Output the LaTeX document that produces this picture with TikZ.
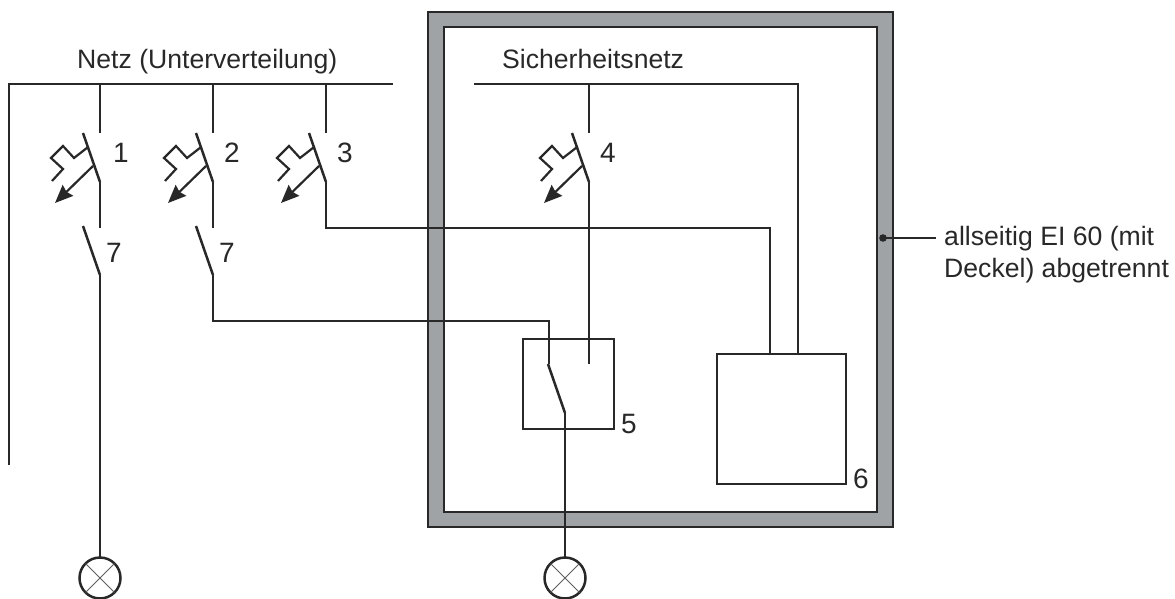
\documentclass[tikz,border=0pt]{standalone}
\usepackage{fontspec}
\setmainfont{Liberation Sans}
\usetikzlibrary{arrows.meta}
\definecolor{ink}{RGB}{40,40,40}
\definecolor{wall}{RGB}{159,163,166}
\tikzset{
  wire/.style={draw=ink,line width=2.5pt,line join=miter},
  thin wire/.style={draw=ink,line width=2.2pt},
  lbl/.style={font=\fontsize{26.6}{30}\selectfont,text=ink,inner sep=0pt},
  num/.style={font=\fontsize{28}{32}\selectfont,text=ink,inner sep=0pt},
  boxnode/.style={draw=ink,line width=2.5pt,fill=white,inner sep=0pt,outer sep=0pt,anchor=north west},
  lamp/.style={circle,draw=ink,line width=2.5pt,minimum size=41pt,inner sep=0pt,outer sep=0pt},
  breaker/.pic={
    \draw[wire] (-17,-49) -- (0,0);
    \draw[thin wire] (-12.5,-34.5) -- (-26,-24) -- (-37,-36) -- (-49,-24) -- (-37,-13) -- (-48,-1);
    \draw[thin wire,-{Stealth[length=18pt,width=15pt,inset=2pt]}] (-7,-16) -- (-45,21);
  },
  contact/.pic={\draw[wire] (-17,-49) -- (0,0);}
}
\begin{document}
\begin{tikzpicture}[x=1pt,y=-1pt]
\useasboundingbox (0,0) rectangle (1175,599);
% enclosure
\node[draw=ink,line width=2.2pt,fill=wall,minimum width=465pt,minimum height=515pt,anchor=north west,inner sep=0pt,outer sep=0pt] (outer) at (428,12) {};
\node[draw=ink,line width=2.2pt,fill=white,minimum width=433pt,minimum height=485pt,anchor=north west,inner sep=0pt,outer sep=0pt] (inner) at (444,27) {};
% coordinates
\coordinate (netA) at (9,465);
\coordinate (netB) at (9,84);
\coordinate (netC) at (393,84);
\coordinate (sA) at (474,84);
\coordinate (sB) at (798,84);
\foreach \n/\x in {1/100,2/213,3/326,4/589}{
  \coordinate (top\n) at (\x,84);
  \coordinate (up\n) at (\x,133);
  \coordinate (b\n) at (\x,182);
}
\coordinate (m1) at (100,228);
\coordinate (m2) at (213,228);
\coordinate (c1) at (100,275);
\coordinate (c2) at (213,275);
\coordinate (p3) at (326,228);
\coordinate (p3b) at (770,228);
\coordinate (p2) at (213,321);
\coordinate (p2b) at (549,321);
\coordinate (k2) at (549,364);
\coordinate (k4) at (589,364);
\coordinate (sw) at (565,413);
% boxes
\node[boxnode,minimum width=91pt,minimum height=90pt] (box5) at (523,339) {};
\node[boxnode,minimum width=129pt,minimum height=130pt] (box6) at (717,354) {};
\coordinate (in3) at (770,354);
\coordinate (in4) at (798,354);
% lamps
\node[lamp] (l1) at (100,578) {};
\node[lamp] (l2) at (565,578) {};
\foreach \l in {l1,l2}{
  \draw[draw=ink!75,line width=1pt] (\l.north west) -- (\l.south east);
  \draw[draw=ink!75,line width=1pt] (\l.north east) -- (\l.south west);
}
% wires
\draw[wire] (netA) -- (netB) -- (netC);
\draw[wire] (sA) -- (sB) -- (in4);
\foreach \n in {1,2,3,4}{
  \draw[wire] (top\n) -- (up\n);
  \pic at (b\n) {breaker};
}
\draw[wire] (b1) -- (m1);
\draw[wire] (b2) -- (m2);
\pic at (c1) {contact};
\pic at (c2) {contact};
\draw[wire] (c1) -- (l1.north);
\draw[wire] (b3) -- (p3) -- (p3b) -- (in3);
\draw[wire] (c2) -- (p2) -- (p2b) -- (k2);
\draw[wire] (b4) -- (k4);
\pic at (sw) {contact};
\draw[wire] (sw) -- (l2.north);
% leader
\coordinate (lead) at (883,238);
\coordinate (leadE) at (936,238);
\fill[ink] (lead) circle (3.8pt);
\draw[draw=ink,line width=1.2pt] (lead) -- (leadE);
% labels
\node[lbl,anchor=base west] (tNetz) at (77,69) {Netz (Unterverteilung)};
\node[lbl,anchor=base west] (tSich) at (502,69) {Sicherheitsnetz};
\node[lbl,anchor=base west] (tA) at (944,245) {allseitig EI 60 (mit};
\node[lbl,anchor=base west] (tB) at (944,277.5) {Deckel) abgetrennt};
\node[num,anchor=base west] (n1) at (113,162) {1};
\node[num,anchor=base west] (n2) at (224,162) {2};
\node[num,anchor=base west] (n3) at (337,162) {3};
\node[num,anchor=base west] (n4) at (600,162) {4};
\node[num,anchor=base west] (n7a) at (106,262) {7};
\node[num,anchor=base west] (n7b) at (219,262) {7};
\node[num,anchor=base west] (n5) at (621,433) {5};
\node[num,anchor=base west] (n6) at (853,488) {6};
\end{tikzpicture}
\end{document}
